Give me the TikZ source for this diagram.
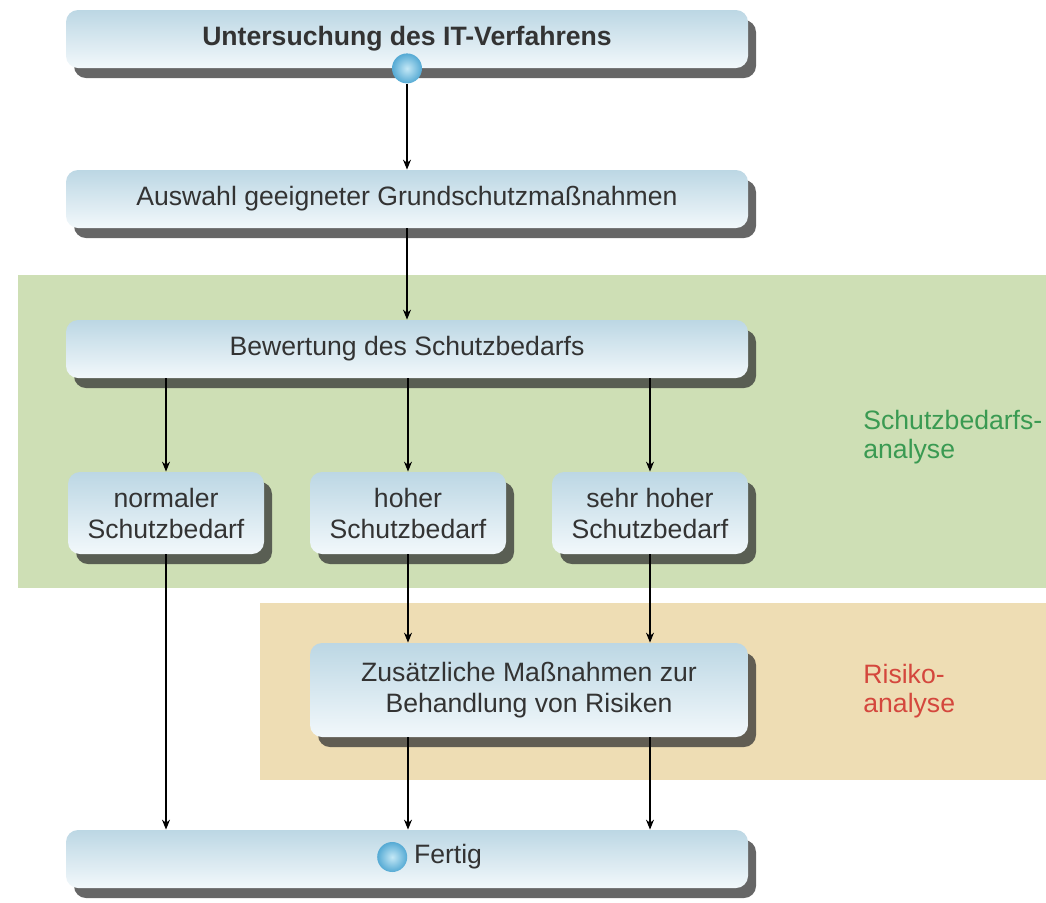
\documentclass[tikz,border=0pt]{standalone}
\usepackage{fontspec}
\setmainfont{Liberation Sans}
\usetikzlibrary{arrows.meta,shadows,positioning}
\definecolor{boxtop}{HTML}{BCD7E4}
\definecolor{boxbot}{HTML}{F2F8FB}
\definecolor{txtgray}{HTML}{333333}
\definecolor{ballin}{HTML}{C4E8F6}
\definecolor{ballout}{HTML}{55AAD4}
\definecolor{zonegreen}{HTML}{CEDFB5}
\definecolor{zonetan}{HTML}{EEDDB4}
\definecolor{labelgreen}{HTML}{3A9A52}
\definecolor{labelred}{HTML}{D4473D}
\tikzset{
  stepbox/.style={rounded corners=6pt, top color=boxtop, bottom color=boxbot,
    drop shadow={shadow xshift=4pt, shadow yshift=-5pt, fill=black!80, opacity=.75},
    text=txtgray, align=center, inner sep=0pt,
    font=\fontsize{13.3}{15.5}\selectfont},
  widebox/.style={stepbox, minimum width=341pt, minimum height=29pt},
  smallbox/.style={stepbox, minimum width=98pt, minimum height=41pt},
  ball/.style={circle, inner color=ballin, outer color=ballout, minimum size=15pt, inner sep=0pt},
  flow/.style={line width=.6pt, -{Stealth[length=5pt,width=4pt]}},
  zonelabel/.style={anchor=north west, align=left, inner sep=0pt,
    font=\fontsize{13.3}{14.5}\selectfont}
}
\begin{document}
\begin{tikzpicture}[x=.5pt,y=-.5pt]
  \useasboundingbox (0,0) rectangle (1046,902);
  % zones
  \fill[zonegreen] (18,275) rectangle (1046,588);
  \fill[zonetan] (260,603) rectangle (1046,780);
  \node[zonelabel, text=labelgreen] (zschutz) at (863,410) {Schutzbedarfs-\\analyse};
  \node[zonelabel, text=labelred] (zrisiko) at (863,664) {Risiko-\\analyse};
  % boxes
  \node[widebox, font=\fontsize{13.3}{15.5}\selectfont\bfseries] (start) at (407,39) {Untersuchung des IT-Verfahrens};
  \node[ball] (sball) at (start.south) {};
  \node[widebox] (ausw) at (407,199) {Auswahl geeigneter Grundschutzmaßnahmen};
  \node[widebox] (bew) at (407,349) {Bewertung des Schutzbedarfs};
  \node[smallbox] (norm) at (166,513) {normaler\\Schutzbedarf};
  \node[smallbox] (hoch) at (408,513) {hoher\\Schutzbedarf};
  \node[smallbox] (sehr) at (650,513) {sehr hoher\\Schutzbedarf};
  \node[stepbox, minimum width=219pt, minimum height=47pt] (zus) at (529,690) {Zusätzliche Maßnahmen zur\\Behandlung von Risiken};
  \node[widebox] (fertig) at (407,859) {};
  \node[inner sep=0pt, text=txtgray, font=\fontsize{13.3}{15.5}\selectfont] (ftext) at (448,857) {Fertig};
  \node[ball, left=3pt of ftext] (fball) {};
  % connectors
  \draw[flow] (sball.south) -- (ausw.north);
  \draw[flow] (ausw.south) -- (bew.north);
  \foreach \n in {norm,hoch,sehr}{
    \draw[flow] (bew.south -| \n) -- (\n.north);
  }
  \foreach \n in {hoch,sehr}{
    \draw[flow] (\n.south) -- (zus.north -| \n);
    \draw[flow] (zus.south -| \n) -- (fertig.north -| \n);
  }
  \draw[flow] (norm.south) -- (fertig.north -| norm);
\end{tikzpicture}
\end{document}
